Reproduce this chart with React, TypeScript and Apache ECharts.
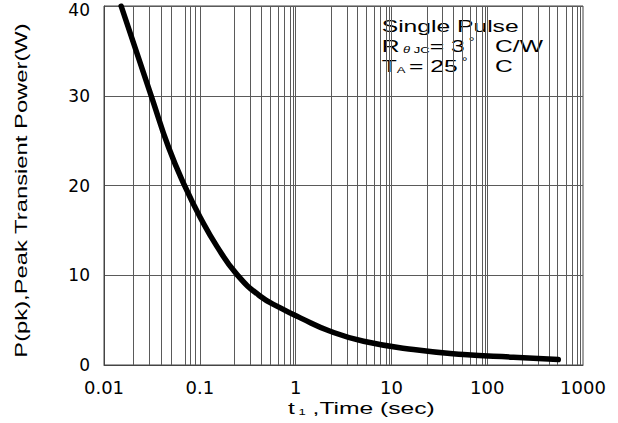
import React, { useEffect, useRef } from "react";
import * as echarts from "echarts";

// Pulse duration t1 (sec) and peak transient power P(pk) (W)
const timeValues = [0.0151, 0.0318, 0.0474, 0.0708, 0.1015, 0.1515, 0.2448, 0.428, 0.6925, 1.12, 2.3, 5.12, 17.0, 56.5, 187.6, 552];
const powerValues = [40, 29.69, 24.2, 19.78, 16.41, 13.19, 10.07, 7.66, 6.36, 5.25, 3.76, 2.65, 1.72, 1.17, 0.87, 0.61];

// Axis tick labels
const xTickLabels = ["0.01", "0.1", "1", "10", "100", "1000"];
const yTickLabels = ["0", "10", "20", "30", "40"];

// Vertical grid lines of the log paper: decades and the in-decade lines as drawn on the reference
const gridDecades = [0.01, 0.1, 1, 10, 100];
const gridMultipliers = [1, 2.34, 3.43, 4.42, 5.43, 6.61, 7.67, 8.81, 9.44];

const FONT = "Liberation Sans, Arial, sans-serif";
const TICK_FONT = "DejaVu Sans, sans-serif";
const GRID_COLOR = "#5a5a5a";

export default function App() {
  const ref = useRef<HTMLDivElement>(null);

  useEffect(() => {
    if (!ref.current) return;
    const chart = echarts.init(ref.current, undefined, { renderer: "svg" });

    const curve = timeValues.map((t, i) => [t, powerValues[i]]);
    const gridLines: { xAxis: number }[] = [];
    gridDecades.forEach((d) => {
      gridMultipliers.forEach((m) => {
        const v = d * m;
        if (v > 0.01) gridLines.push({ xAxis: v });
      });
    });

    const labelMap: Record<string, string> = {};
    xTickLabels.forEach((s) => (labelMap[String(Number(s))] = s));

    const richMain = { fontSize: 17, fontFamily: FONT, fill: "#000" };
    const richSub = { fontSize: 9, fontFamily: FONT, verticalAlign: "bottom", fill: "#000" };
    const richSubIt = { fontSize: 9, fontFamily: FONT, fontStyle: "italic", verticalAlign: "bottom", fill: "#000" };
    const richSup = { fontSize: 10, fontFamily: FONT, verticalAlign: "top", fill: "#000" };

    chart.setOption({
      animation: false,
      backgroundColor: "#fff",
      grid: {
        left: 104,
        right: 35,
        top: 6,
        bottom: 58,
        show: true,
        borderColor: "#444",
        borderWidth: 1,
        containLabel: false,
        outerBoundsMode: "none",
      },
      xAxis: {
        type: "log",
        logBase: 10,
        min: 0.01,
        max: 1000,
        splitNumber: 5,
        axisLine: { show: true, lineStyle: { color: "#444", width: 1 } },
        axisTick: { show: false },
        splitLine: { show: false },
        minorSplitLine: { show: false },
        axisLabel: {
          margin: 13,
          fontSize: 18,
          fontFamily: TICK_FONT,
          color: "#000",
          formatter: (v: number) => labelMap[String(v)] ?? String(v),
        },
      },
      yAxis: {
        type: "value",
        min: 0,
        max: 40,
        interval: 10,
        axisLine: { show: true, lineStyle: { color: "#444", width: 1 } },
        axisTick: { show: false },
        splitLine: { show: true, lineStyle: { color: GRID_COLOR, width: 1 } },
        axisLabel: {
          margin: 14,
          fontSize: 17,
          fontFamily: TICK_FONT,
          color: "#000",
          formatter: (v: number) => {
            const s = yTickLabels[Math.round(v / 10)] ?? String(v);
            return v >= 40 ? "{top|" + s + "}" : s;
          },
          rich: {
            top: { fontSize: 17, fontFamily: TICK_FONT, color: "#000", padding: [7, 0, 0, 0] },
          },
        },
      },
      series: [
        {
          type: "line",
          data: [],
          z: 1,
          silent: true,
          markLine: {
            silent: true,
            symbol: ["none", "none"],
            animation: false,
            label: { show: false },
            lineStyle: { type: "solid", color: GRID_COLOR, width: 1 },
            emphasis: { disabled: true },
            data: gridLines,
          },
        },
        {
          type: "line",
          data: curve,
          z: 5,
          smooth: 0.5,
          showSymbol: false,
          symbol: "none",
          lineStyle: { color: "#000", width: 5.5, cap: "round", join: "round" },
        },
      ],
      graphic: [
        {
          type: "text",
          x: 21,
          y: 190.5,
          rotation: Math.PI / 2,
          scaleX: 1.4,
          style: {
            text: "P(pk),Peak Transient Power(W)",
            fontSize: 17,
            fontFamily: FONT,
            fill: "#000",
            textAlign: "center",
            textVerticalAlign: "middle",
            verticalAlign: "middle",
          },
        },
        {
          type: "text",
          x: 288,
          y: 407.5,
          scaleX: 1.45,
          style: {
            text: "{m|t}{s| 1}{m| ,Time (sec)}",
            rich: { m: richMain, s: richSub },
            fontSize: 17,
            fontFamily: FONT,
            fill: "#000",
            textAlign: "left",
            textVerticalAlign: "middle",
            verticalAlign: "middle",
          },
        },
        {
          type: "text",
          x: 381.7,
          y: 25.7,
          scaleX: 1.45,
          style: {
            text: "Single Pulse",
            fontSize: 17,
            fontFamily: FONT,
            fill: "#000",
            textAlign: "left",
            textVerticalAlign: "middle",
            verticalAlign: "middle",
          },
        },
        {
          type: "text",
          x: 381.7,
          y: 45.7,
          scaleX: 1.45,
          style: {
            text: "{m|R}{s| }{t|θ}{s| JC}{m|= 3}{u| °}{m|   C/W}",
            rich: { m: richMain, s: richSub, t: richSubIt, u: richSup },
            fontSize: 17,
            fontFamily: FONT,
            fill: "#000",
            textAlign: "left",
            textVerticalAlign: "middle",
            verticalAlign: "middle",
          },
        },
        {
          type: "text",
          x: 381.7,
          y: 65.7,
          scaleX: 1.45,
          style: {
            text: "{m|T}{s|A }{m|= 25}{u| °}{m|    C}",
            rich: { m: richMain, s: richSub, u: richSup },
            fontSize: 17,
            fontFamily: FONT,
            fill: "#000",
            textAlign: "left",
            textVerticalAlign: "middle",
            verticalAlign: "middle",
          },
        },
      ],
    });

    return () => {
      chart.dispose();
    };
  }, []);

  return (
    <div
      ref={ref}
      style={{ position: "fixed", left: 0, top: 0, width: 618, height: 423, background: "#fff" }}
    />
  );
}
